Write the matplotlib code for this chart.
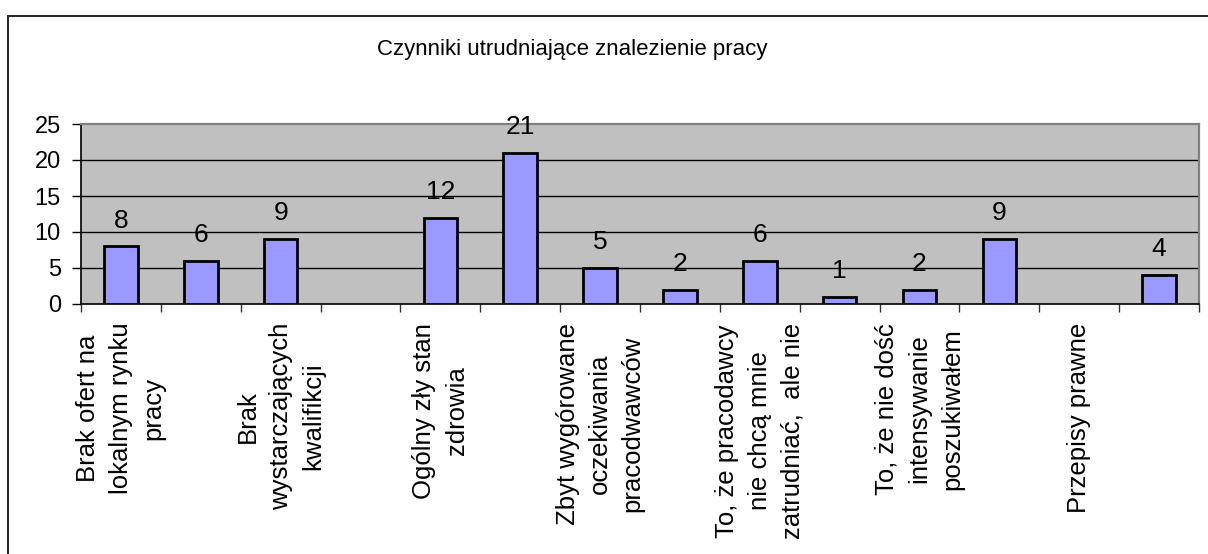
import matplotlib
matplotlib.use('Agg')
import matplotlib.pyplot as plt
import matplotlib.patches as mpatches
import numpy as np

plt.rcParams['font.family'] = ['Liberation Sans', 'DejaVu Sans']

# --- data ---
title = 'Czynniki utrudniające znalezienie pracy'
# only every other category label is visible in the original chart
categories = [
    'Brak ofert na\nlokalnym rynku\npracy', '',
    'Brak\nwystarczających\nkwalifikcji', '',
    'Ogólny zły stan\nzdrowia', '',
    'Zbyt wygórowane\noczekiwania\npracodwawców', '',
    'To, że pracodawcy\nnie chcą mnie\nzatrudniać,  ale nie', '',
    'To, że nie dość\nintensywanie\nposzukiwałem', '',
    'Przepisy prawne', '',
]
values = [8, 6, 9, None, 12, 21, 5, 2, 6, 1, 2, 9, None, 4]
yticks = [0, 5, 10, 15, 20, 25]

W, H = 1208, 554
fig = plt.figure(figsize=(W / 100, H / 100), dpi=100, facecolor='white')

# outer chart frame (cut by right and bottom edge)
fig.patches.append(mpatches.Rectangle((8 / W, -0.05), 1.1, 1 - 16 / H + 0.05,
                                      transform=fig.transFigure, fill=False,
                                      edgecolor='#222222', lw=1.4))

ax = fig.add_axes([81 / W, 1 - 304 / H, (1199 - 81) / W, 180 / H])
ax.set_facecolor('#C0C0C0')

n = len(values)
centers = np.arange(n) + 0.5
for x, v in zip(centers, values):
    if v is None:
        continue
    ax.bar(x, v, width=0.42, color='#9999FF', edgecolor='black', lw=2.0, zorder=3)
    ax.annotate(str(v), (x, v), xytext=(0, 13.5), textcoords='offset points',
                ha='center', va='baseline', fontsize=19, zorder=4)

ax.set_xlim(0, n)
ax.set_ylim(0, 25)

ax.set_yticks(yticks)
ax.tick_params(axis='y', labelsize=17, length=6.5, width=1, pad=8, color='black')
for y in yticks[1:-1]:
    ax.axhline(y, color='black', lw=1.0, zorder=1)

# tick marks at category boundaries, labels at centers
ax.set_xticks(np.arange(n + 1))
ax.set_xticklabels([])
ax.tick_params(axis='x', which='major', length=6, width=1, color='#333333')
ax.set_xticks(centers, minor=True)
ax.set_xticklabels(categories, minor=True, rotation=90, fontsize=18.5,
                   va='top', ha='center', multialignment='center', linespacing=1.45)
ax.tick_params(axis='x', which='minor', length=0, pad=13.5)

for s in ['left', 'bottom']:
    ax.spines[s].set_color('black')
    ax.spines[s].set_linewidth(1.2)
for s in ['top', 'right']:
    ax.spines[s].set_color('#808080')
    ax.spines[s].set_linewidth(1.6)

fig.text(572 / W, 1 - 50 / H, title, ha='center', va='center', fontsize=16)

fig.savefig('out.png', dpi=100, facecolor='white')
